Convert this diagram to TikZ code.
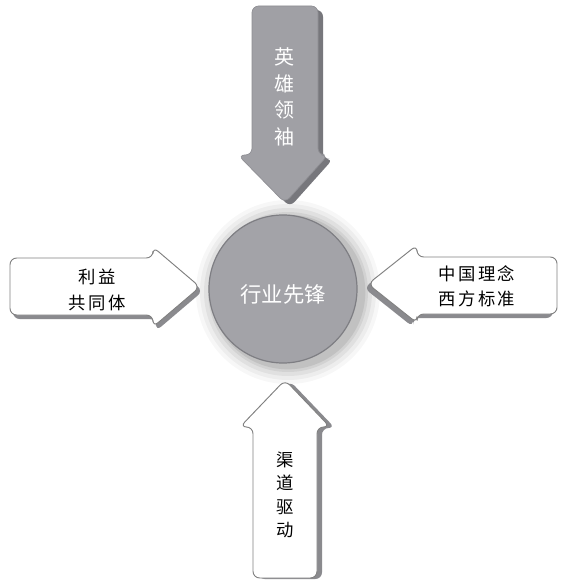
\documentclass[tikz,border=0pt]{standalone}
\usepackage{fontspec}
\newfontfamily\cjk{Noto Sans CJK SC}
\newfontfamily\cjkspaced{Noto Sans CJK SC}[LetterSpace=14]
\begin{document}
\begin{tikzpicture}[x=0.75pt,y=-0.75pt,
  grayarrow/.style={fill=arrowgray,draw=arrowedge,line width=0.5pt,rounded corners=5pt},
  grayshadow/.style={fill=shadowdark,rounded corners=5pt},
  whitearrow/.style={fill=white,draw=edgegray,line width=0.7pt,rounded corners=5pt},
  whiteshadow/.style={fill=shadowmid,rounded corners=5pt},
  whitetext/.style={text=white,font=\cjk\fontsize{15}{20}\selectfont,align=center,inner sep=0pt},
  blacktext/.style={text=black,font=\cjkspaced\fontsize{13}{19}\selectfont,align=center,inner sep=0pt},
]
\definecolor{arrowgray}{HTML}{A0A0A5}
\definecolor{arrowedge}{HTML}{8E8E93}
\definecolor{shadowdark}{HTML}{77777C}
\definecolor{shadowmid}{HTML}{8A8A8E}
\definecolor{edgegray}{HTML}{808080}
\definecolor{circlegray}{HTML}{A3A3A8}
\definecolor{circleedge}{HTML}{7E7E83}
\useasboundingbox (0,0) rectangle (564,584);
\fill[white] (0,0) rectangle (564,584);

% circle glow
\foreach \r/\o in {69/0.03,66/0.04,63/0.05,60/0.06,58/0.08}
  \fill[black,opacity=\o] (288,292) circle[radius=\r pt];
\node[circle,fill=circlegray,draw=circleedge,line width=0.9pt,minimum size=111pt,inner sep=0pt] (hub) at (283,289) {};
\node[whitetext,font=\cjk\fontsize{16}{20}\selectfont] (hubtext) at (283,294) {行业先锋};

% top arrow (gray, down)
\fill[grayshadow] (257,10) -- (323,10) -- (323,159) -- (333,159) -- (290,207) -- (243,159) -- (257,159) -- cycle;
\draw[grayarrow] (252,6) -- (318,6) -- (318,155) -- (328,155) -- (285,203) -- (238,155) -- (252,155) -- cycle;
\node[whitetext] (toptext) at (284,97) {英\\雄\\领\\袖};

% left arrow (white, right)
\fill[whiteshadow] (13,262) -- (156,262) -- (156,251) -- (203,291) -- (156,331) -- (156,319) -- (13,319) -- cycle;
\draw[whitearrow] (10,258) -- (153,258) -- (153,247) -- (200,287) -- (153,327) -- (153,315) -- (10,315) -- cycle;
\node[blacktext] (lefttext) at (97,290) {利益\\共同体};

% right arrow (white, left)
\fill[whiteshadow] (553,261) -- (413,261) -- (413,249) -- (364,288) -- (413,327) -- (413,318) -- (553,318) -- cycle;
\draw[whitearrow] (557,257) -- (417,257) -- (417,245) -- (368,284) -- (417,323) -- (417,314) -- (557,314) -- cycle;
\node[blacktext] (righttext) at (477,286) {中国理念\\西方标准};

% bottom arrow (white, up)
\fill[whiteshadow] (258,579) -- (322,579) -- (322,428) -- (335,428) -- (290,381) -- (245,428) -- (258,428) -- cycle;
\draw[whitearrow] (253,578) -- (317,578) -- (317,427) -- (330,427) -- (285,380) -- (240,427) -- (253,427) -- cycle;
\node[blacktext,font=\cjk\fontsize{13}{17.5}\selectfont] (bottomtext) at (285,495) {渠\\道\\驱\\动};
\end{tikzpicture}
\end{document}
